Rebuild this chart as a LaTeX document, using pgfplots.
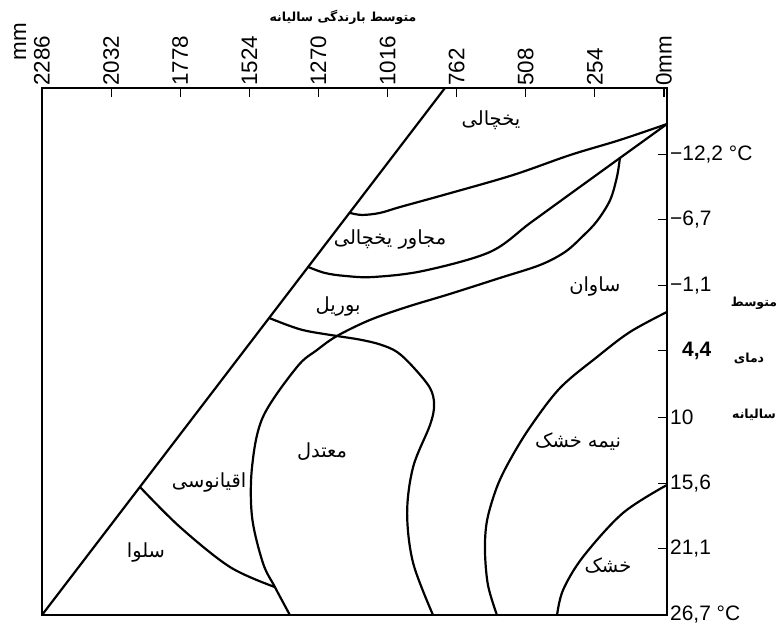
\documentclass[border=0pt]{standalone}
\usepackage{fontspec}
\setmainfont{Liberation Sans}
\newfontfamily\arabicfont[Script=Arabic]{DejaVu Sans}
\TeXXeTstate=1
\usepackage{pgfplots}
\pgfplotsset{compat=1.18}
\begin{document}
\begin{tikzpicture}
\path[use as bounding box] (0,0) rectangle (784bp,630bp);
\begin{axis}[
  at={(42bp,542bp)}, anchor=north west,
  scale only axis, width=625bp, height=527bp,
  x dir=reverse, y dir=reverse,
  xmin=-11, xmax=2286, ymin=-17.8, ymax=26.7,
  clip=false,
  axis line style={line width=1.4pt},
  xtick={0,254,508,762,1016,1270,1524,1778,2032,2286},
  xticklabels={0mm,254,508,762,1016,1270,1524,1778,2032,2286},
  xtick pos=right, xticklabel pos=right,
  xticklabel style={rotate=90, anchor=west, font=\fontsize{22.5}{22.5}\selectfont, inner sep=2bp},
  ytick={-12.2,-6.7,-1.1,4.4,10,15.6,21.1,26.7},
  yticklabels={{−12,2 °C},{−6,7},{−1,1},{\hspace{12bp}\textbf{4,4}},{10},{15,6},{21,1},{26,7 °C}},
  ytick pos=right, yticklabel pos=right,
  yticklabel style={anchor=west, font=\fontsize{21}{21}\selectfont, inner sep=3bp},
  major tick length=9bp,
  tick style={line width=1.1pt, black},
  bd/.style={black, line width=2.2pt, no marks, line join=round, line cap=round},
]
% diagonal boundary
\addplot[bd] coordinates {(2286,26.7) (805,-17.8)};
% ice cap lower boundary
\addplot[bd, smooth, tension=0.55] coordinates {
 (1154,-7.25) (1110,-7.08) (1044,-7.25) (970,-7.75) (797,-8.85) (555,-10.45) (345,-12.14) (162,-13.41) (-11,-14.76)};
% subpolar lower boundary
\addplot[bd, smooth, tension=0.55] coordinates {
 (1308,-2.69) (1246,-2.18) (1172,-1.93) (1069,-1.84) (886,-2.35) (640,-3.95) (492,-6.40) (345,-8.85) (162,-11.89)};
\addplot[bd] coordinates {(162,-11.89) (-11,-14.76)};
% lobe + savanna boundary + temperate left side
\addplot[bd, smooth, tension=0.55] coordinates {
 (162,-11.89) (173,-10.29) (198,-8.34) (246,-6.57) (298,-5.30) (364,-3.95) (456,-2.85) (603,-1.76) (787,-0.41) (945,0.69) (1081,1.79) (1202,3.14)
 (1275,4.32) (1349,5.76) (1474,9.98) (1514,14.20) (1514,18.42) (1474,22.31) (1430,24.34) (1375,26.7)};
% boreal left boundary + temperate right side
\addplot[bd, smooth, tension=0.55] coordinates {
 (1451,1.62) (1374,2.30) (1312,2.72) (1202,3.14) (1117,3.45) (1044,3.85) (981,4.49) (922,5.76) (860,7.53) (845,8.97) (860,10.66) (922,14.20) (944,18.09) (922,22.31) (849,26.7)};
% oceanic / selva boundary
\addplot[bd, smooth, tension=0.55] coordinates {
 (1926,15.89) (1779,19.27) (1595,22.65) (1430,24.34)};
% semi-arid boundary
\addplot[bd, smooth, tension=0.55] coordinates {
 (-11,1.11) (125,2.80) (246,4.91) (382,7.53) (492,10.83) (566,13.61) (614,15.89) (650,18.68) (658,21.21) (647,24.17) (614,26.7)};
% arid boundary
\addplot[bd, smooth, tension=0.55] coordinates {
 (-11,15.72) (151,18.09) (298,21.80) (371,24.59) (393,26.7)};
% region labels
\begin{scope}[every node/.style={font=\arabicfont\fontsize{19.5}{19.5}\selectfont, inner sep=0pt}]
\node at (axis cs:636,-15.1) {\beginR یخچالی\endR};
\node at (axis cs:1007,-4.97) {\beginR مجاور یخچالی\endR};
\node at (axis cs:1198,0.61) {\beginR بوریل\endR};
\node at (axis cs:254,-1.0) {\beginR ساوان\endR};
\node at (axis cs:1257,12.94) {\beginR معتدل\endR};
\node at (axis cs:1672,15.47) {\beginR اقیانوسی\endR};
\node at (axis cs:1904,21.46) {\beginR سلوا\endR};
\node at (axis cs:316,12.09) {\beginR نیمه خشک\endR};
\node at (axis cs:206,22.56) {\beginR خشک\endR};
\end{scope}
\end{axis}
% unit label beside first tick
\node[rotate=90, font=\fontsize{22.5}{22.5}\selectfont, anchor=center] at (20bp,588bp) {mm};
% title
\node[font=\arabicfont\bfseries\fontsize{12.5}{12.5}\selectfont] at (343bp,613bp) {\beginR متوسط بارندگی سالیانه\endR};
% right axis title
\begin{scope}[every node/.style={font=\arabicfont\bfseries\fontsize{12.5}{12.5}\selectfont}]
\node at (754bp,327bp) {\beginR متوسط\endR};
\node at (749bp,272bp) {\beginR دمای\endR};
\node at (754bp,215bp) {\beginR سالیانه\endR};
\end{scope}
\end{tikzpicture}
\end{document}
